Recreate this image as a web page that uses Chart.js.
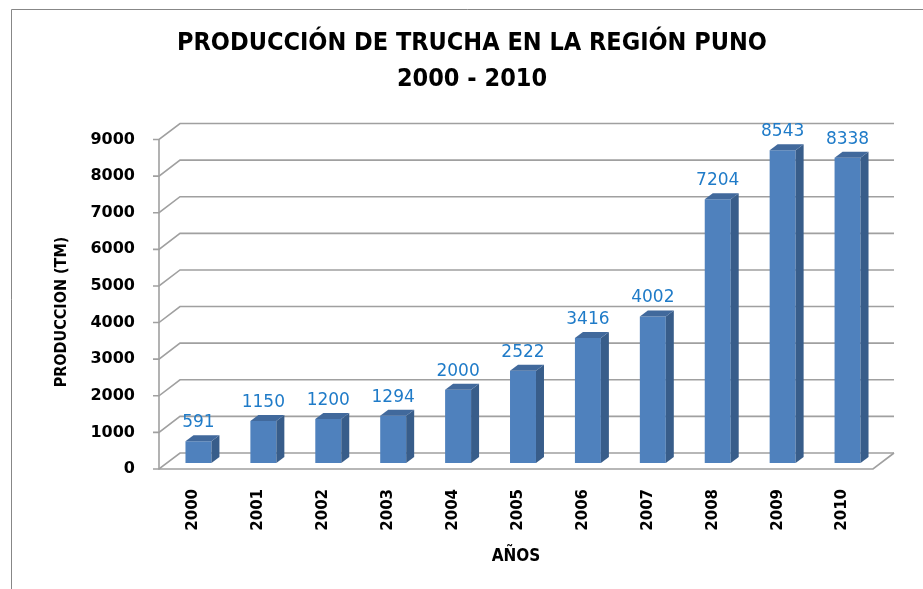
<!DOCTYPE html>
<html>
<head>
<meta charset="utf-8">
<title>Producción de trucha - Puno</title>
<script src="https://cdn.jsdelivr.net/npm/chart.js@4.4.1/dist/chart.umd.min.js"></script>
<style>
  html, body { margin: 0; padding: 0; background: #fff; }
</style>
</head>
<body>
<canvas id="myChart" width="923" height="589"></canvas>
<script>
const years = ["2000", "2001", "2002", "2003", "2004", "2005", "2006", "2007", "2008", "2009", "2010"];
const produccion = [591, 1150, 1200, 1294, 2000, 2522, 3416, 4002, 7204, 8543, 8338];
const yTicks = [0, 1000, 2000, 3000, 4000, 5000, 6000, 7000, 8000, 9000];
const titleLines = ["PRODUCCIÓN DE TRUCHA EN LA REGIÓN PUNO", "2000 - 2010"];
const yTitle = "PRODUCCION (TM)";
const xTitle = "AÑOS";

const narrow = '"Liberation Sans Narrow", "DejaVu Sans Condensed", "Liberation Sans", sans-serif';
Chart.defaults.font.family = '"DejaVu Sans", sans-serif';

// offsets of the fake 3d planes, relative to the plane the bars stand in
const FRONT = { x: -7, y: 6 };
const BACK = { x: 14, y: -10 };
const DEPTH = { x: 8, y: -6 };

const walls = {
  id: "walls",
  beforeDraw(chart) {
    const { ctx } = chart;
    ctx.save();
    ctx.strokeStyle = "#878787";
    ctx.lineWidth = 1;
    ctx.beginPath();
    ctx.moveTo(11.5, 589);
    ctx.lineTo(11.5, 9.5);
    ctx.lineTo(923, 9.5);
    ctx.stroke();
    ctx.restore();
  },
  beforeDatasetsDraw(chart) {
    const { ctx, chartArea: { left, right }, scales: { y } } = chart;
    ctx.save();
    ctx.strokeStyle = "#a0a0a0";
    ctx.lineWidth = 1.6;
    y.ticks.forEach((t) => {
      const py = y.getPixelForValue(t.value);
      ctx.beginPath();
      ctx.moveTo(left + FRONT.x - 6, py + FRONT.y);
      ctx.lineTo(left + FRONT.x, py + FRONT.y);
      ctx.lineTo(left + BACK.x, py + BACK.y);
      ctx.lineTo(right + BACK.x, py + BACK.y);
      ctx.stroke();
    });
    const top = y.getPixelForValue(y.max);
    const base = y.getPixelForValue(0);
    ctx.beginPath();
    ctx.moveTo(left + FRONT.x, top + FRONT.y);
    ctx.lineTo(left + FRONT.x, base + FRONT.y);
    ctx.lineTo(right + FRONT.x, base + FRONT.y);
    ctx.lineTo(right + BACK.x, base + BACK.y);
    ctx.stroke();
    ctx.restore();
  },
  afterDatasetsDraw(chart) {
    const { ctx, chartArea: { left, right } } = chart;
    const meta = chart.getDatasetMeta(0);
    ctx.save();
    meta.data.forEach((bar, i) => {
      const l = bar.x - bar.width / 2;
      const r = bar.x + bar.width / 2;
      ctx.fillStyle = "#385d8a";
      ctx.beginPath();
      ctx.moveTo(r, bar.y);
      ctx.lineTo(r + DEPTH.x, bar.y + DEPTH.y);
      ctx.lineTo(r + DEPTH.x, bar.base + DEPTH.y);
      ctx.lineTo(r, bar.base);
      ctx.closePath();
      ctx.fill();
      ctx.fillStyle = "#41699c";
      ctx.beginPath();
      ctx.moveTo(l, bar.y);
      ctx.lineTo(l + DEPTH.x, bar.y + DEPTH.y);
      ctx.lineTo(r + DEPTH.x, bar.y + DEPTH.y);
      ctx.lineTo(r, bar.y);
      ctx.closePath();
      ctx.fill();

      ctx.fillStyle = "#1f7bc8";
      ctx.font = '17px "DejaVu Sans", sans-serif';
      ctx.textAlign = "center";
      ctx.textBaseline = "alphabetic";
      ctx.fillText(String(produccion[i]), bar.x, bar.y - 14);
    });

    ctx.fillStyle = "#000";
    ctx.font = "bold 16px " + narrow;
    ctx.textAlign = "center";
    ctx.textBaseline = "middle";
    ctx.save();
    ctx.translate(62, 312);
    ctx.rotate(-Math.PI / 2);
    ctx.fillText(yTitle, 0, 0);
    ctx.restore();

    ctx.font = "bold 17px " + narrow;
    ctx.fillText(xTitle, (left + right) / 2 + FRONT.x, 557);
    ctx.restore();
  },
};

const ctx = document.getElementById("myChart").getContext("2d");
const myChart = new Chart(ctx, {
  type: "bar",
  data: {
    labels: years,
    datasets: [
      {
        label: yTitle,
        data: produccion,
        backgroundColor: "#4f81bd",
        borderWidth: 0,
        categoryPercentage: 1,
        barPercentage: 0.4,
      },
    ],
  },
  options: {
    responsive: false,
    animation: false,
    layout: { padding: { left: 64, right: 43, top: 9, bottom: 0 } },
    plugins: {
      legend: { display: false },
      tooltip: { enabled: false },
      title: {
        display: true,
        text: titleLines,
        color: "#000",
        font: { family: narrow, size: 25, weight: "bold", lineHeight: 1.45 },
        padding: { top: 16, bottom: 36 },
      },
    },
    scales: {
      x: {
        grid: { display: false },
        border: { display: false },
        ticks: {
          color: "#000",
          font: { size: 15, weight: "bold" },
          minRotation: 90,
          maxRotation: 90,
          padding: 18,
          labelOffset: -5,
        },
        afterFit(s) {
          s.height = 126;
        },
      },
      y: {
        min: 0,
        max: 9000,
        grid: { display: false },
        border: { display: false },
        ticks: {
          color: "#000",
          font: { size: 16, weight: "bold" },
          padding: 23,
          labelOffset: 6,
          callback: (v) => String(v),
        },
        afterBuildTicks(s) {
          s.ticks = yTicks.map((v) => ({ value: v }));
        },
        afterFit(s) {
          s.width = 102;
        },
      },
    },
  },
  plugins: [walls],
});
</script>
</body>
</html>
